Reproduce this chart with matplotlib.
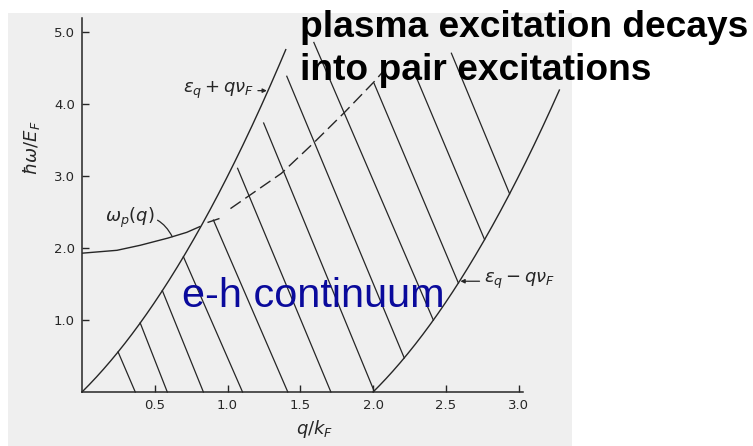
import numpy as np
import matplotlib
matplotlib.use("Agg")
import matplotlib.pyplot as plt
from matplotlib.patches import Rectangle
from matplotlib.markers import MarkerStyle
from matplotlib.transforms import Affine2D

# plasmon branch omega_p(q), solid part (below the continuum edge)
plasmon_q = [0.0, 0.24, 0.40, 0.59, 0.72, 0.81]
plasmon_w = [1.93, 1.97, 2.04, 2.14, 2.22, 2.30]

# plasmon branch inside the continuum (dashed, damped)
damped_q = [1.02, 1.37, 1.59, 1.80, 2.01, 2.07]
damped_w = [2.55, 3.04, 3.46, 3.88, 4.32, 4.46]

# hatch strokes filling the e-h continuum: top end and foot on the lower edge
hatch_top_q = [0.248, 0.40, 0.552, 0.697, 0.903, 1.069, 1.248, 1.407, 1.593, 2.007, 2.297, 2.538]
hatch_top_w = [0.557, 0.96, 1.41, 1.88, 2.39, 3.11, 3.74, 4.39, 4.86, 4.29, 4.375, 4.71]
hatch_foot_q = [0.366, 0.586, 0.834, 1.103, 1.414, 1.71, 2.007, 2.214, 2.414, 2.586, 2.766, 2.938]

x_ticks = [0.5, 1.0, 1.5, 2.0, 2.5, 3.0]
y_ticks = [1.0, 2.0, 3.0, 4.0, 5.0]

# continuum edges in units of E_F and k_F
upper_qmax = 1.40
lower_qmax = 3.28


def eps_plus(q):
    return q ** 2 + 2 * q


def eps_minus(q):
    return q ** 2 - 2 * q


def lower_edge(q):
    return np.maximum(0.0, eps_minus(q))


ink = "#262626"

fig = plt.figure(figsize=(7.53, 4.46), dpi=100)
fig.patch.set_facecolor("white")
fig.patches.append(Rectangle((8 / 753, 0), 564 / 753, 433 / 446,
                             transform=fig.transFigure, facecolor="#efefef",
                             edgecolor="none", zorder=-5))

ax = fig.add_axes([82 / 753, 54 / 446, 441 / 753, 374 / 446])
ax.set_facecolor("none")
ax.set_xlim(0, 3.03)
ax.set_ylim(0, 5.2)
for side in ["top", "right"]:
    ax.spines[side].set_visible(False)
for side in ["left", "bottom"]:
    ax.spines[side].set_color(ink)
    ax.spines[side].set_linewidth(1.1)

ax.set_xticks(x_ticks)
ax.set_xticklabels([f"{v:.1f}" for v in x_ticks])
ax.set_yticks(y_ticks)
ax.set_yticklabels([f"{v:.1f}" for v in y_ticks])
ax.tick_params(direction="in", length=5, width=1, colors=ink, labelsize=9.5, pad=5)

# upper edge eps_q + q v_F
qu = np.linspace(0, upper_qmax, 200)
ax.plot(qu, eps_plus(qu), color=ink, lw=1.0, clip_on=False)

# lower edge eps_q - q v_F (zero below q = 2k_F)
ql = np.linspace(2.0, lower_qmax, 200)
ax.plot(ql, eps_minus(ql), color=ink, lw=1.0, clip_on=False)

# hatching
for qt, wt, qf in zip(hatch_top_q, hatch_top_w, hatch_foot_q):
    ax.plot([qt, qf], [wt, lower_edge(qf)], color=ink, lw=0.9, clip_on=False)

# small serif where the plasmon enters the continuum
serif = MarkerStyle("_", transform=Affine2D().rotate_deg(23))
ax.plot([hatch_top_q[4]], [hatch_top_w[4]], marker=serif, ms=9, mew=1.0, color=ink)

# plasmon branch
ax.plot(plasmon_q, plasmon_w, color=ink, lw=1.0)
ax.plot(damped_q, damped_w, color=ink, lw=1.0, linestyle=(0, (9, 4)), clip_on=False)

# hand-lettered labels
ax.annotate(r"$\epsilon_q + q\nu_F$", xy=(1.27, 4.19), xytext=(1.18, 4.19),
            ha="right", va="center", fontsize=13, color=ink,
            arrowprops=dict(arrowstyle="-|>", color=ink, lw=0.9,
                            mutation_scale=6, shrinkA=1, shrinkB=0))
ax.annotate(r"$\epsilon_q - q\nu_F$", xy=(2.60, 1.54), xytext=(2.76, 1.54),
            ha="left", va="center", fontsize=13, color=ink,
            arrowprops=dict(arrowstyle="-|>", color=ink, lw=0.9,
                            mutation_scale=6, shrinkA=1, shrinkB=0))
ax.annotate(r"$\omega_p(q)$", xy=(0.62, 2.16), xytext=(0.33, 2.42),
            ha="center", va="center", fontsize=13, color=ink,
            arrowprops=dict(arrowstyle="-", color=ink, lw=0.9,
                            connectionstyle="arc3,rad=-0.4", shrinkA=0, shrinkB=0))

ax.text(1.60, -0.52, r"$q/k_F$", ha="center", va="center", fontsize=13, color=ink)
ax.text(-0.345, 3.39, r"$\hbar\omega/E_F$", ha="center", va="center",
        rotation=90, fontsize=13, color=ink)

# overlay annotations
ax.text(0.69, 1.18, "e-h continuum", ha="left", va="baseline",
        fontsize=29.8, color="#0a0a9c", family="Liberation Sans", zorder=5)
fig.text(300 / 753, 1 - 37 / 446, "plasma excitation decays", ha="left", va="baseline",
         fontsize=26.7, fontweight="bold", color="black", family="Liberation Sans", zorder=5)
fig.text(300 / 753, 1 - 80 / 446, "into pair excitations", ha="left", va="baseline",
         fontsize=26.7, fontweight="bold", color="black", family="Liberation Sans", zorder=5)

fig.savefig("out.png", dpi=100)
